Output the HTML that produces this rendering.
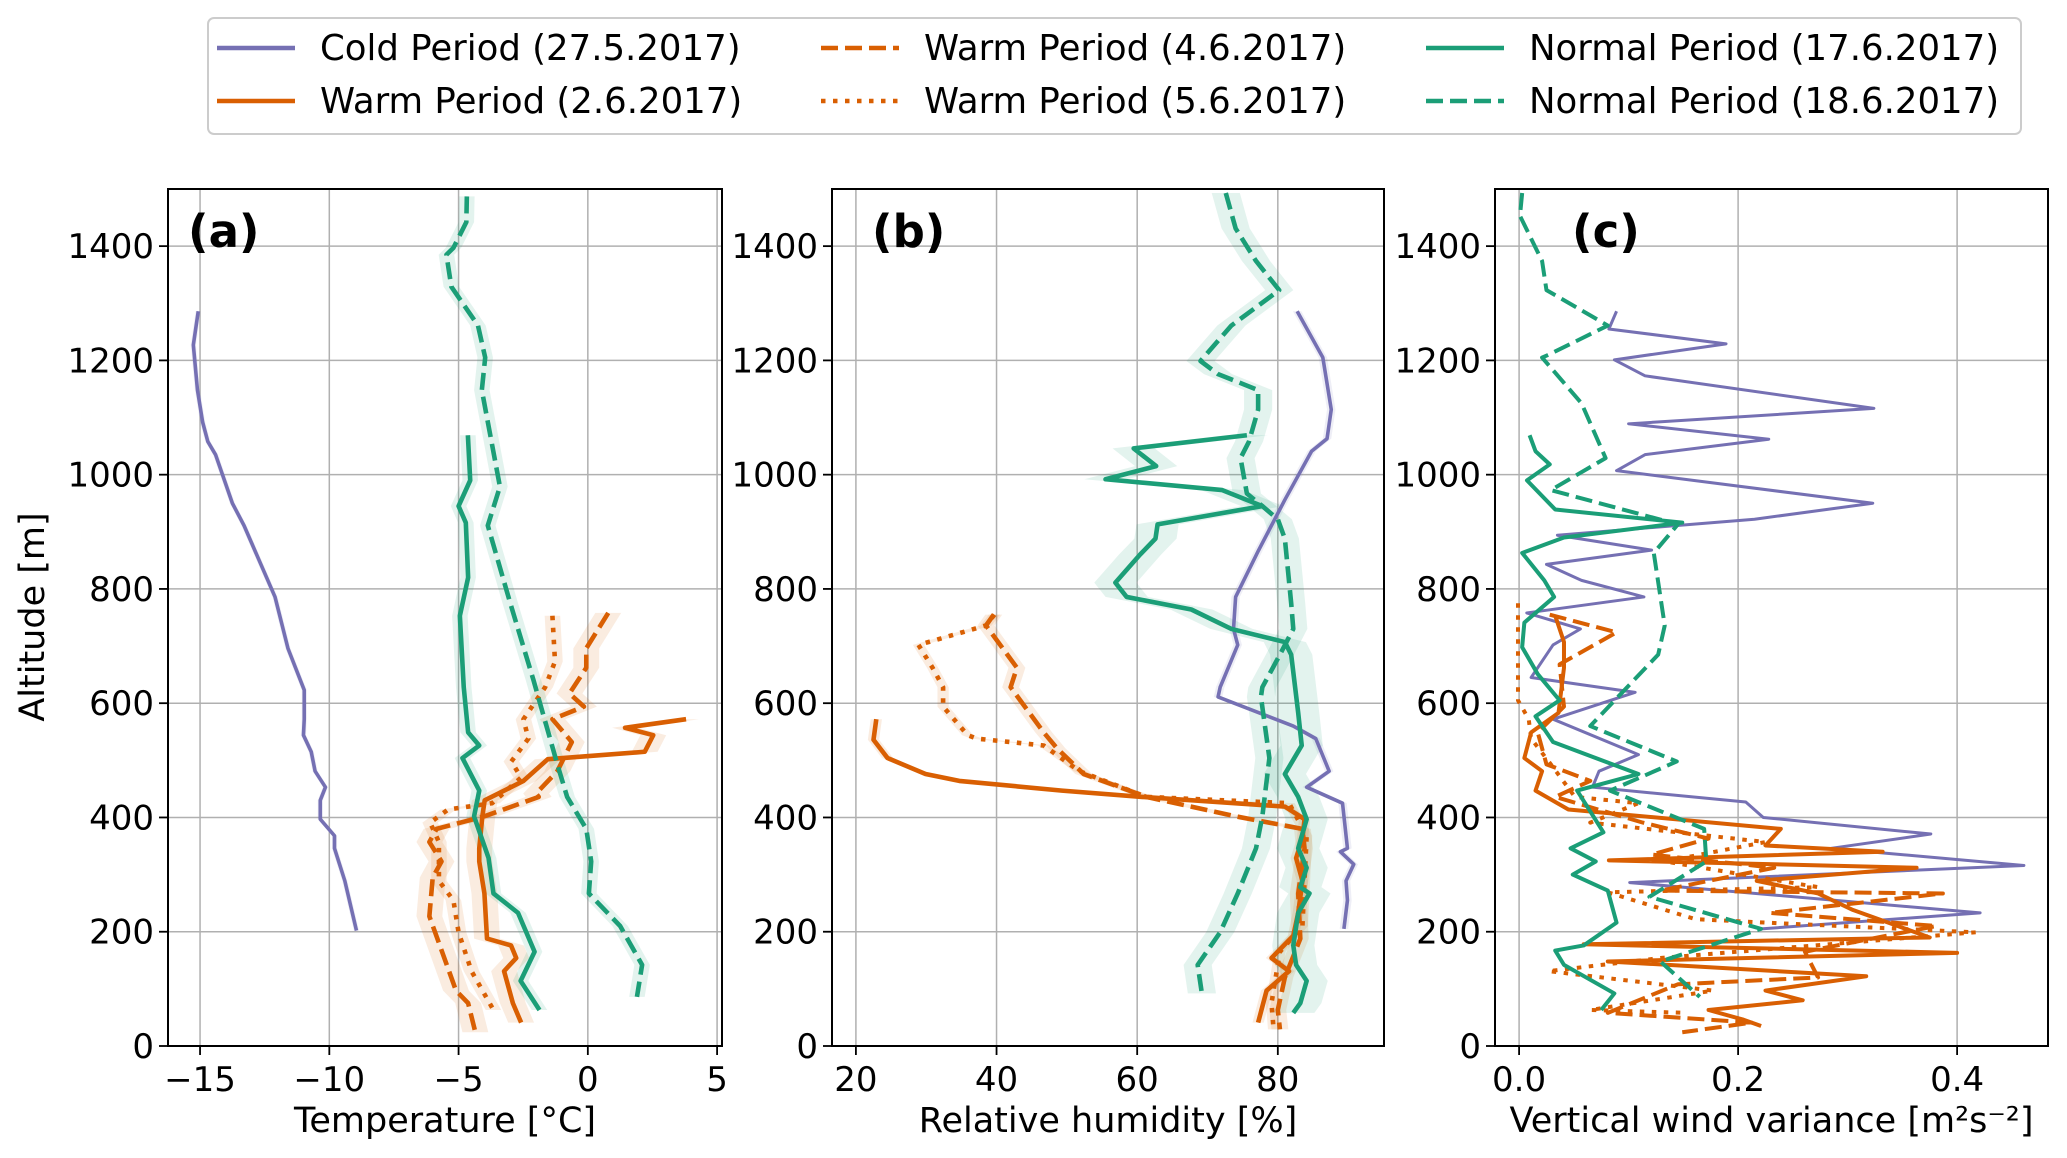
<!DOCTYPE html>
<html><head><meta charset="utf-8">
<style>
html,body{margin:0;padding:0;background:#fff;}
svg{display:block;font-family:"DejaVu Sans","Liberation Sans",sans-serif;}
</style></head>
<body>
<svg id="chart" width="2067" height="1158" viewBox="0 0 2067 1158" xmlns="http://www.w3.org/2000/svg"></svg>
<script>
// ---------- DATA (altitude [m], value) ----------
const aCold = [[1286,-15.07],[1227,-15.26],[1148,-15.1],[1092,-14.9],[1058,-14.7],[1035,-14.4],[950,-13.75],[911,-13.3],[786,-12.1],[696,-11.6],[623,-10.97],[572,-10.97],[544,-11.0],[515,-10.7],[481,-10.55],[453,-10.15],[430,-10.35],[397,-10.35],[368,-9.8],[346,-9.8],[289,-9.4],[202,-8.95]];
const aWarm2 = [[572,3.8],[557,1.44],[544,2.53],[515,2.2],[502,-1.55],[464,-2.49],[430,-3.99],[402,-4.08],[346,-4.2],[323,-4.2],[267,-4.0],[188,-3.9],[176,-2.97],[154,-2.77],[131,-3.24],[75,-2.9],[41,-2.58]];
const aWarm4 = [[758,0.79],[696,-0.06],[662,-0.06],[617,-0.71],[594,-0.15],[572,-1.37],[532,-0.62],[481,-1.18],[442,-2.0],[436,-1.9],[402,-4.0],[380,-5.85],[357,-6.13],[323,-5.66],[295,-6.0],[227,-6.13],[97,-5.1],[75,-4.63],[24,-4.35]];
const aWarm5 = [[753,-1.37],[673,-1.27],[628,-1.65],[572,-2.49],[538,-2.3],[498,-2.96],[470,-2.58],[425,-3.7],[414,-5.4],[391,-6.1],[357,-5.76],[289,-5.76],[255,-5.2],[199,-5.0],[131,-4.5],[63,-3.65]];
const aNorm17 = [[1069,-4.64],[990,-4.55],[945,-5.0],[916,-4.72],[820,-4.63],[753,-4.95],[628,-4.8],[549,-4.63],[526,-4.2],[504,-4.85],[447,-4.2],[402,-4.4],[329,-3.84],[267,-3.65],[233,-2.7],[165,-2.06],[114,-2.6],[63,-1.87]];
const aNorm18 = [[1487,-4.68],[1442,-4.7],[1397,-5.2],[1385,-5.47],[1329,-5.28],[1261,-4.25],[1205,-3.97],[1148,-4.1],[979,-3.4],[911,-3.87],[775,-3.0],[640,-2.1],[493,-1.18],[436,-0.8],[380,-0.06],[323,0.13],[267,0.04],[210,1.25],[142,2.1],[86,1.9]];

const bCold = [[1286,82.75],[1205,86.4],[1114,87.6],[1063,87.0],[1041,84.8],[956,81.0],[866,77.2],[786,74.0],[730,73.7],[702,74.3],[628,71.8],[611,71.5],[560,82.2],[538,85.4],[481,87.3],[453,84.1],[425,89.2],[346,89.9],[340,88.9],[318,90.8],[289,89.7],[255,89.9],[205,89.4]];
const bWarm2 = [[572,22.9],[536,22.5],[504,24.5],[476,29.9],[464,34.7],[447,49.3],[436,60.7],[419,81.0],[397,83.8],[363,83.5],[329,82.6],[289,83.5],[233,82.9],[193,82.2],[154,79.1],[131,81.6],[97,78.4],[41,77.2]];
const bWarm4 = [[755,39.6],[736,38.5],[662,42.9],[628,42.0],[549,46.7],[521,48.6],[476,52.4],[436,61.3],[402,74.0],[380,83.5],[346,83.8],[267,82.9],[188,83.2],[120,81.0],[63,80.0],[29,80.3]];
const bWarm5 = [[755,39.7],[736,38.5],[702,28.9],[662,30.9],[628,32.4],[594,32.4],[544,35.9],[538,37.2],[526,46.7],[481,51.8],[436,61.3],[425,81.6],[368,84.1],[210,83.5],[165,80.3],[75,79.1],[29,79.4]];
const bNorm17 = [[1069,75.6],[1046,59.5],[1015,62.7],[992,55.5],[973,72.1],[945,77.8],[913,62.9],[888,62.6],[860,60.4],[811,56.9],[786,58.5],[764,67.7],[730,73.4],[707,81.0],[685,81.9],[583,82.9],[526,83.4],[476,81.0],[436,82.9],[397,84.1],[346,82.9],[312,84.1],[278,83.2],[267,84.5],[233,82.9],[176,82.2],[142,82.6],[114,84.1],[75,83.2],[58,82.2]];
const bNorm18 = [[1493,72.6],[1431,74.0],[1374,76.9],[1323,80.2],[1261,73.4],[1199,69.0],[1176,71.5],[1148,77.2],[1114,77.2],[1058,75.9],[1029,74.7],[967,75.6],[945,77.8],[922,80.0],[888,81.0],[775,81.9],[730,82.2],[685,80.3],[628,77.8],[611,77.6],[504,78.8],[402,77.8],[346,76.9],[267,74.3],[199,71.8],[142,68.6],[92,69.2]];

const cCold = [[1286,.089],[1255,.082],[1229,.189],[1201,.087],[1173,.115],[1116,.324],[1089,.100],[1062,.228],[1035,.115],[1007,.089],[950,.323],[922,.215],[894,.035],[868,.121],[843,.025],[815,.057],[786,.114],[758,.007],[730,.056],[702,.031],[645,.011],[619,.106],[572,.031],[510,.109],[481,.073],[453,.067],[427,.207],[400,.223],[371,.376],[346,.285],[316,.461],[286,.101],[233,.421],[205,.221]];
const cWarm2 = [[753,.033],[707,.041],[662,.041],[583,.036],[549,.011],[504,.0048],[481,.021],[447,.015],[414,.045],[380,.239],[351,.225],[340,.332],[325,.082],[312,.363],[289,.217],[267,.273],[238,.305],[190,.375],[178,.059],[163,.400],[148,.081],[122,.317],[97,.225],[80,.259],[63,.173],[46,.205],[35,.221]];
const cWarm4 = [[755,.028],[724,.089],[668,.037],[594,.041],[549,.017],[493,.025],[464,.065],[436,.033],[391,.113],[363,.173],[335,.121],[312,.233],[272,.129],[267,.387],[233,.229],[210,.381],[165,.261],[120,.273],[108,.145],[58,.081],[41,.213],[24,.149]];
const cWarm5 = [[775,-.001],[605,-.001],[572,.0088],[538,.011],[493,.029],[436,.051],[425,.109],[391,.065],[357,.225],[323,.133],[278,.273],[269,.081],[222,.161],[216,.225],[199,.417],[154,.129],[131,.027],[97,.177],[63,.065],[58,.153]];
const cNorm17 = [[1069,.0096],[1041,.015],[1018,.028],[990,.0072],[939,.033],[916,.149],[890,.041],[863,.0028],[815,.023],[786,.032],[741,.0048],[698,.0028],[651,.017],[605,.037],[577,.015],[532,.031],[476,.109],[447,.053],[374,.077],[346,.047],[323,.070],[300,.049],[272,.081],[216,.089],[176,.059],[167,.033],[142,.041],[92,.087],[63,.075]];
const cNorm18 = [[1493,.0028],[1453,.0008],[1374,.021],[1323,.025],[1261,.081],[1210,.027],[1205,.021],[1125,.057],[1029,.079],[973,.029],[913,.145],[863,.123],[736,.133],[685,.127],[560,.065],[498,.144],[447,.083],[380,.169],[323,.171],[261,.119],[205,.221],[148,.129],[86,.165]];

const yTicks = [0,200,400,600,800,1000,1200,1400];
const aTicks = [-15,-10,-5,0,5];
const aTickLabels = ['\u221215','\u221210','\u22125','0','5'];
const bTicks = [20,40,60,80];
const bTickLabels = ['20','40','60','80'];
const cTicks = [0,0.2,0.4];
const cTickLabels = ['0.0','0.2','0.4'];
const legendLabels = ['Cold Period (27.5.2017)','Warm Period (2.6.2017)','Warm Period (4.6.2017)','Warm Period (5.6.2017)','Normal Period (17.6.2017)','Normal Period (18.6.2017)'];

// ---------- RENDER ----------
const NS='http://www.w3.org/2000/svg';
const svg=document.getElementById('chart');
const PURPLE='#7570b3',ORANGE='#d95f02',GREEN='#1b9e77';
const STY={cold:{c:PURPLE,d:null},w2:{c:ORANGE,d:null},w4:{c:ORANGE,d:'17,7'},w5:{c:ORANGE,d:'4.5,7.5'},n17:{c:GREEN,d:null},n18:{c:GREEN,d:'17,7'}};
const Y0=1046,Y1=189,YMAX=1500;
function yS(a){return Y0-a/YMAX*(Y0-Y1);}
function mk(tag,attrs,parent){const e=document.createElementNS(NS,tag);for(const k in attrs)e.setAttribute(k,attrs[k]);(parent||svg).appendChild(e);return e;}

const panels=[
 {id:'a',x0:168,x1:722,xmin:-16.24,xmax:5.19,ticks:aTicks,labels:aTickLabels,xlabel:'Temperature [\u00b0C]',lx:188,lw:4.6,
  series:[['cold',aCold,0.1],['w2',aWarm2,0.5],['w4',aWarm4,0.5],['w5',aWarm5,0.3],['n17',aNorm17,0.3],['n18',aNorm18,0.3]]},
 {id:'b',x0:832,x1:1384,xmin:16.6,xmax:95.1,ticks:bTicks,labels:bTickLabels,xlabel:'Relative humidity [%]',lx:872,lw:4.6,
  series:[['cold',bCold,0.6],['w2',bWarm2,0.8],['w4',bWarm4,1.2],['w5',bWarm5,0.8],['n17',bNorm17,3],['n18',bNorm18,2]]},
 {id:'c',x0:1495,x1:2048,xmin:-0.022,xmax:0.483,ticks:cTicks,labels:cTickLabels,xlabel:'Vertical wind variance [m\u00b2s\u207b\u00b2]',lx:1572,lw:4.0,
  series:[['cold',cCold,0],['w2',cWarm2,0],['w4',cWarm4,0],['w5',cWarm5,0],['n17',cNorm17,0],['n18',cNorm18,0]]}
];

panels.forEach(p=>{
  const g=mk('g',{});
  
  
  const xS=v=>p.x0+(v-p.xmin)/(p.xmax-p.xmin)*(p.x1-p.x0);
  const clipId='clip'+p.id;
  const cp=mk('clipPath',{id:clipId},g);
  mk('rect',{x:p.x0,y:Y1,width:p.x1-p.x0,height:Y0-Y1},cp);
  p.ticks.forEach(t=>{const l=mk('line',{x1:xS(t),x2:xS(t),y1:Y1,y2:Y0,stroke:'#b0b0b0','stroke-width':1.5},g);
    
    });
  yTicks.forEach(t=>{const l=mk('line',{x1:p.x0,x2:p.x1,y1:yS(t),y2:yS(t),stroke:'#b0b0b0','stroke-width':1.5},g);
    
    });
  const plot=mk('g',{'clip-path':'url(#'+clipId+')'},g);
  p.series.forEach(s=>{ if(!s[2])return;
    const st=STY[s[0]];const d=s[1];
    let pts=d.map(q=>xS(q[1]-s[2])+','+yS(q[0]));
    pts=pts.concat(d.slice().reverse().map(q=>xS(q[1]+s[2])+','+yS(q[0])));
    const b=mk('polygon',{points:pts.join(' '),fill:st.c,'fill-opacity':0.12,stroke:'none'},plot);
    
    
  });
  p.series.forEach(s=>{
    const st=STY[s[0]];
    const a={points:s[1].map(q=>xS(q[1])+','+yS(q[0])).join(' '),fill:'none',stroke:st.c,'stroke-width':(s[0]==='cold')?p.lw-1:p.lw,'stroke-linejoin':'round'};
    if(st.d)a['stroke-dasharray']=st.d;
    const l=mk('polyline',a,plot);
    
    
  });
  const fr=mk('rect',{x:p.x0,y:Y1,width:p.x1-p.x0,height:Y0-Y1,fill:'none',stroke:'#000','stroke-width':2},g);
  
  
  p.ticks.forEach((t,i)=>{
    mk('line',{x1:xS(t),x2:xS(t),y1:Y0,y2:Y0+9,stroke:'#000','stroke-width':1.8},g);
    const tx=mk('text',{x:xS(t),y:Y0+45,'font-size':34,'text-anchor':'middle',fill:'#000'},g);
    tx.textContent=p.labels[i];
    
    
  });
  yTicks.forEach(t=>{
    mk('line',{x1:p.x0-9,x2:p.x0,y1:yS(t),y2:yS(t),stroke:'#000','stroke-width':1.8},g);
    const tx=mk('text',{x:p.x0-14,y:yS(t)+12,'font-size':34,'text-anchor':'end',fill:'#000'},g);
    tx.textContent=t;
    
    
  });
  const xl=mk('text',{x:(p.x0+p.x1)/2,y:1132,'font-size':35,'text-anchor':'middle',fill:'#000'},g);
  xl.textContent=p.xlabel;
  
  
  const pl=mk('text',{x:p.lx,y:247,'font-size':45,'font-weight':'bold',fill:'#000'},g);
  pl.textContent='('+p.id+')';
  
  
});
const yl=mk('text',{x:0,y:0,'font-size':35,'text-anchor':'middle',fill:'#000',transform:'translate(44,617) rotate(-90)'});
yl.textContent='Altitude [m]';



const lg=mk('g',{});


mk('rect',{x:208,y:18,width:1813,height:116,rx:6,fill:'#fff',stroke:'#cccccc','stroke-width':2},lg);
const keys=['cold','w2','w4','w5','n17','n18'];
const colX=[217,821,1426],rowY=[48,101];
keys.forEach((k,i)=>{
  const cx=colX[Math.floor(i/2)],cy=rowY[i%2];const st=STY[k];
  const a={x1:cx,x2:cx+78,y1:cy,y2:cy,stroke:st.c,'stroke-width':4.6};
  if(st.d)a['stroke-dasharray']=st.d;
  const ln=mk('line',a,lg);
  
  
  const t=mk('text',{x:cx+103,y:cy+12,'font-size':35.5,fill:'#000'},lg);
  t.textContent=legendLabels[i];
  
  
});
</script>
</body></html>
